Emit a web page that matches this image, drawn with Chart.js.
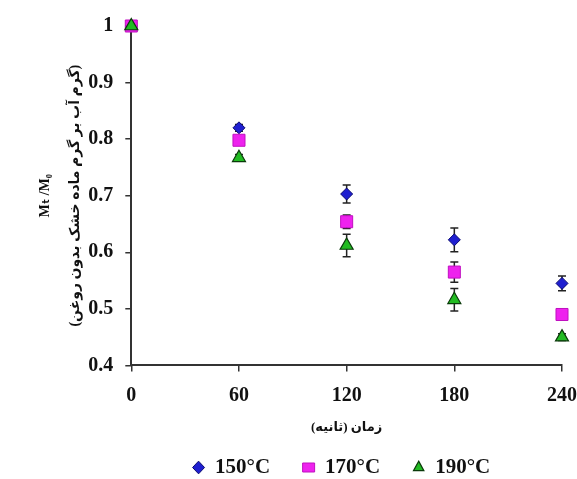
<!DOCTYPE html>
<html>
<head>
<meta charset="utf-8">
<script src="https://cdn.jsdelivr.net/npm/chart.js@4.4.1/dist/chart.umd.min.js"></script>
<style>
html,body{margin:0;padding:0;background:#fff;}
#wrap{width:577px;height:479px;position:relative;}
</style>
</head>
<body>
<div id="wrap"><canvas id="c" width="577" height="479"></canvas></div>
<script>
const times = [0, 60, 120, 180, 240];
const s150 = [1.0, 0.820, 0.703, 0.622, 0.545];
const s170 = [1.0, 0.798, 0.654, 0.565, 0.490];
const s190 = [1.0, 0.767, 0.612, 0.516, 0.450];
const e150 = [0, 0.006, 0.016, 0.021, 0.013];
const e170 = [0, 0.006, 0.012, 0.018, 0.006];
const e190 = [0, 0.006, 0.020, 0.020, 0.006];
const yTicks = [0.4, 0.5, 0.6, 0.7, 0.8, 0.9, 1];
const xTicks = [0, 60, 120, 180, 240];
const labels = ['150°C', '170°C', '190°C'];

const serif = "'Liberation Serif', 'Times New Roman', 'DejaVu Serif', serif";
const arab = "'Liberation Serif', 'DejaVu Sans', 'Noto Sans', sans-serif";

function pts(vals){ return times.map((t,i)=>({x:t, y:vals[i]})); }

const errorBars = {
  id:'errorBars',
  beforeDatasetsDraw(chart){
    const ctx = chart.ctx, xs = chart.scales.x, ys = chart.scales.y;
    chart.data.datasets.forEach(ds=>{
      if(!ds.errors) return;
      ctx.save();
      ctx.strokeStyle = '#222';
      ctx.lineWidth = 1.5;
      ds.data.forEach((p,i)=>{
        const e = ds.errors[i];
        if(!e) return;
        const x = xs.getPixelForValue(p.x);
        const y1 = ys.getPixelForValue(p.y + e);
        const y2 = ys.getPixelForValue(p.y - e);
        ctx.beginPath();
        ctx.moveTo(x, y1); ctx.lineTo(x, y2);
        ctx.moveTo(x-4, y1); ctx.lineTo(x+4, y1);
        ctx.moveTo(x-4, y2); ctx.lineTo(x+4, y2);
        ctx.stroke();
      });
      ctx.restore();
    });
  }
};

new Chart(document.getElementById('c'), {
  type:'scatter',
  data:{
    datasets:[
      {label:labels[0], data:pts(s150), errors:e150, order:3, pointStyle:'rectRot', pointRadius:6, pointHoverRadius:6,
       backgroundColor:'#1f1fd0', borderColor:'#0a0a70', borderWidth:1},
      {label:labels[1], data:pts(s170), errors:e170, order:2, pointStyle:'rect', pointRadius:8.5, pointHoverRadius:8.5,
       backgroundColor:'#ee22ee', borderColor:'#c010c0', borderWidth:1},
      {label:labels[2], data:pts(s190), errors:e190, order:1, pointStyle:'triangle', pointRadius:7.5, pointHoverRadius:7.5,
       backgroundColor:'#22bb22', borderColor:'#0a3a0a', borderWidth:1.2}
    ]
  },
  options:{
    responsive:false,
    animation:false,
    clip:false,
    layout:{autoPadding:false, padding:{left:31, right:15, top:26, bottom:-9}},
    plugins:{
      tooltip:{enabled:false},
      legend:{
        position:'bottom',
        fullSize:false,
        labels:{usePointStyle:true, pointStyleWidth:12, boxHeight:9, padding:22,
          font:{family:serif, size:21, weight:'bold'}, color:'#111',
          sort:(a,b)=>a.datasetIndex-b.datasetIndex,
          generateLabels(chart){
            const items = Chart.defaults.plugins.legend.labels.generateLabels(chart);
            items.forEach(it=>{ it.text = it.text + '\u2002'; });
            return items;
          }}
      }
    },
    scales:{
      x:{
        type:'linear', min:0, max:240,
        afterBuildTicks(ax){ ax.ticks = xTicks.map(v=>({value:v})); },
        afterFit(ax){ ax.paddingRight = 0; ax.paddingLeft = 0; },
        grid:{drawOnChartArea:false, drawTicks:true, tickLength:6, color:'#333', lineWidth:1.5},
        border:{display:true, color:'#333', width:2},
        ticks:{font:{family:serif, size:20, weight:'bold'}, color:'#111', padding:12},
        title:{display:true, text:'زمان (ثانیه)', font:{family:arab, size:13, weight:'bold'}, color:'#111', padding:{top:0, bottom:0}}
      },
      y:{
        type:'linear', min:0.4, max:1,
        afterBuildTicks(ax){ ax.ticks = yTicks.map(v=>({value:v})); },
        afterFit(ax){ ax.width -= 13.5; },
        grid:{drawOnChartArea:false, drawTicks:true, tickLength:6, color:'#333', lineWidth:1.5},
        border:{display:true, color:'#333', width:2},
        ticks:{font:{family:serif, size:20, weight:'bold'}, color:'#111', padding:12,
          callback:(v)=> v===1 ? '1' : v.toFixed(1)},
        title:{display:true, text:['Mₜ /M₀', '(گرم آب بر گرم ماده خشک بدون روغن)'],
          font:{family:arab, size:14, weight:'bold', lineHeight:2.1}, color:'#111', padding:{top:0, bottom:0}}
      }
    }
  },
  plugins:[errorBars]
});
</script>
</body>
</html>
